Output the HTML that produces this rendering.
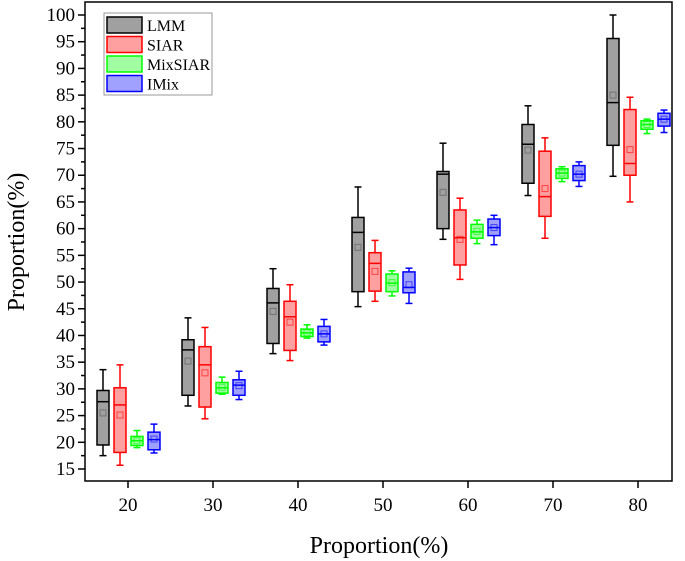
<!DOCTYPE html>
<html><head><meta charset="utf-8"><style>
body{margin:0;background:#fff}
svg{display:block;font-family:"Liberation Serif",serif}
</style></head><body>
<svg id="chart" width="685" height="561"></svg>
<script>
const categories=[20,30,40,50,60,70,80];
const seriesNames=["LMM","SIAR","MixSIAR","IMix"];
const yTicks=[15,20,25,30,35,40,45,50,55,60,65,70,75,80,85,90,95,100];
// [whiskerLow, q1, median, q3, whiskerHigh, mean] per category
const lmm=[[17.5,19.5,27.6,29.7,33.6,25.5],[26.8,28.8,37.3,39.2,43.3,35.2],[36.6,38.5,46.1,48.8,52.5,44.5],[45.4,48.2,59.3,62.1,67.8,56.5],[58,60,70.2,70.7,76,66.8],[66.2,68.5,75.8,79.5,83,74.7],[69.8,75.6,83.6,95.6,100,85]];
const siar=[[15.7,18.1,27,30.2,34.5,25.1],[24.4,26.6,34.5,37.9,41.5,33],[35.3,37.2,43.5,46.4,49.5,42.5],[46.4,48.3,53.5,55.5,57.8,52],[50.5,53.2,58.3,63.5,65.7,58],[58.2,62.3,66,74.5,77,67.5],[65,70,72.2,82.3,84.6,74.8]];
const mixsiar=[[19,19.4,20.3,21.1,22.2,20.3],[29,29.2,30.2,31.2,32.2,30.3],[39.5,39.8,40.5,41.2,42,40.5],[47.4,48.2,49.8,51.5,52.1,49.9],[57.2,58.2,59.4,60.8,61.6,59.5],[68.8,69.4,70.4,71.2,71.6,70.4],[77.8,78.6,79.5,80.2,80.5,79.5]];
const imix=[[18,18.6,20.5,21.9,23.4,20.6],[28,28.8,30.7,31.7,33.3,30.6],[38.2,38.8,40.3,41.7,43,40.3],[46,48,49,51.9,52.6,49.5],[57,58.7,60.2,61.8,62.5,60.2],[67.9,69,70.2,71.8,72.5,70.2],[78,79.2,80.5,81.6,82.2,80.5]];
const allSeries=[lmm,siar,mixsiar,imix];
const strokes=["#000","#f00","#0f0","#00f"];
const fills=["#a0a0a0","#ffa0a0","#a0ffa0","#a0a0ff"];
const offsets=[-25,-8,9,26];
const L=85,R=672,T=2,B=481;
const y=v=>15+(100-v)*(454/85);
const x=c=>128+(c-20)*8.5;
const svg=document.getElementById('chart');
const NS="http://www.w3.org/2000/svg";
function mk(t,a,p){const e=document.createElementNS(NS,t);for(const k in a)e.setAttribute(k,a[k]);(p||svg).appendChild(e);return e;}
const frame=mk('rect',{x:L,y:T,width:R-L,height:B-T,fill:'none',stroke:'#000','stroke-width':1.5});


for(let v=15;v<=100;v+=2.5){const major=v%5===0;mk('line',{x1:L-(major?7:4),x2:L,y1:y(v),y2:y(v),stroke:'#000','stroke-width':1.5});}
yTicks.forEach(v=>{const t=mk('text',{x:L-10,y:y(v)+6,'text-anchor':'end','font-size':19});t.textContent=v;

});
categories.forEach(c=>{mk('line',{x1:x(c),x2:x(c),y1:B,y2:B+7,stroke:'#000','stroke-width':1.5});
const t=mk('text',{x:x(c),y:B+30,'text-anchor':'middle','font-size':19});t.textContent=c;

});
[92.5,97.5].forEach(c=>{mk('line',{x1:x(c)-85*0.5*0+0,x2:x(c),y1:B,y2:B,stroke:'none'});});
const xt=mk('text',{x:379,y:553,'text-anchor':'middle','font-size':24});xt.textContent='Proportion(%)';


const yt=mk('text',{x:0,y:0,'text-anchor':'middle','font-size':24,transform:'translate(24,242) rotate(-90)'});yt.textContent='Proportion(%)';


const w=12;
allSeries.forEach((s,si)=>{s.forEach((d,ci)=>{
const cx=x(categories[ci])+offsets[si];
const g=mk('g',{});


const st={stroke:strokes[si],'stroke-width':1.5};
mk('line',Object.assign({x1:cx,x2:cx,y1:y(d[0]),y2:y(d[1])},st),g);
mk('line',Object.assign({x1:cx,x2:cx,y1:y(d[3]),y2:y(d[4])},st),g);
mk('line',Object.assign({x1:cx-3.5,x2:cx+3.5,y1:y(d[0]),y2:y(d[0])},st),g);
mk('line',Object.assign({x1:cx-3.5,x2:cx+3.5,y1:y(d[4]),y2:y(d[4])},st),g);
mk('rect',Object.assign({x:cx-w/2,y:y(d[3]),width:w,height:y(d[1])-y(d[3]),fill:fills[si]},st),g);
mk('line',Object.assign({x1:cx-w/2,x2:cx+w/2,y1:y(d[2]),y2:y(d[2])},st),g);
mk('rect',{x:cx-3,y:y(d[5])-3,width:6,height:6,fill:'none',stroke:si===0?'#555':strokes[si],'stroke-width':1,opacity:0.6},g);
});});
const lg=mk('g',{});


mk('rect',{x:104,y:13,width:108,height:82,fill:'#fff',stroke:'#999','stroke-width':1},lg);
seriesNames.forEach((n,i)=>{const yy=17+i*19.5;
const e=mk('g',{},lg);


mk('rect',{x:107,y:yy,width:35,height:16,fill:fills[i],stroke:strokes[i],'stroke-width':1.5},e);
const t=mk('text',{x:147,y:yy+14,'font-size':16},e);t.textContent=n;});
</script>
</body></html>
